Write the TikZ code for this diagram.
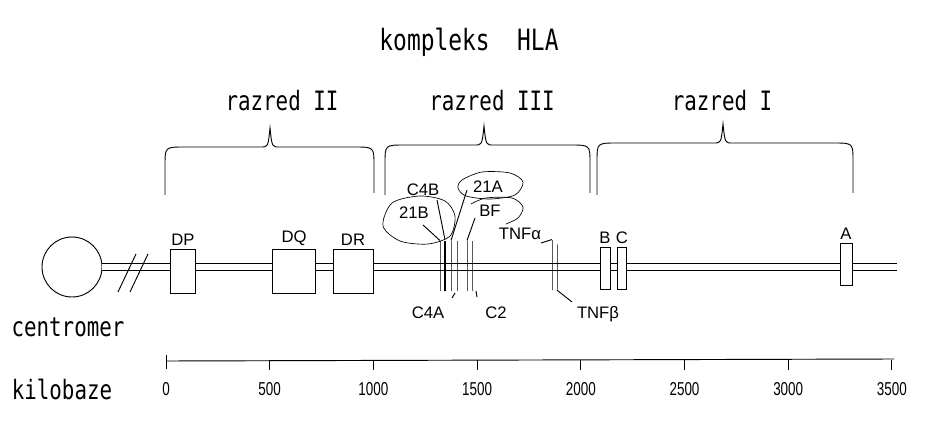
\documentclass[tikz,border=0pt]{standalone}
\usepackage{fontspec}
\setmainfont{Liberation Sans}
\newfontfamily\typefont[FakeStretch=0.78]{DejaVu Sans Mono}
\newfontfamily\numfont[FakeStretch=0.72]{Liberation Sans}
\usetikzlibrary{positioning}

\begin{document}
\begin{tikzpicture}[x=0.75pt,y=-0.75pt,line width=0.7pt,
  gene/.style={draw,fill=white,inner sep=0pt,minimum height=33pt},
  bar/.style={draw,inner sep=0pt,minimum width=0pt,minimum height=37.5pt},
  lab/.style={font=\fontsize{12.5}{12.5}\selectfont,inner sep=1pt},
  big/.style={font=\typefont\fontsize{20}{20}\selectfont},
  num/.style={font=\numfont\fontsize{14}{14}\selectfont}]
\useasboundingbox (0,0) rectangle (934,438);
% ---------- titles ----------
\node[big,font=\typefont\fontsize{22}{22}\selectfont] (hla) at (469,42) {kompleks\ \ HLA};
\node[big] (r2) at (282,101) {razred II};
\node[big] (r3) at (492,101) {razred III};
\node[big] (r1) at (722,101) {razred I};
% braces
\foreach \xa/\xt/\xb/\yt in {165/270/374/147, 385/484/590/145, 597/723/853/143}{
  \draw (\xa,195) -- (\xa,\yt+18) .. controls (\xa,\yt) .. (\xa+20,\yt) -- (\xt-9,\yt)
    .. controls (\xt-2,\yt) .. (\xt,\yt-19) .. controls (\xt+2,\yt) .. (\xt+9,\yt)
    -- (\xb-20,\yt) .. controls (\xb,\yt) .. (\xb,\yt+18) -- (\xb,193);
}
% ---------- chromosome ----------
\node[draw,circle,minimum size=45pt,inner sep=0pt] (cen) at (72,267) {};
\node[big] (cenlab) at (68,327) {centromer};
\coordinate (tel) at (897,267);
\draw[double,double distance=4.5pt,line width=0.6pt] (cen.east) -- (tel);
\draw (118,292) -- (136,254) (130,292) -- (148,254);
% class II boxes
\node[gene,minimum width=18.75pt] (dp) at (183,271) {};
\node[gene,minimum width=32pt] (dq) at (294,271) {};
\node[gene,minimum width=30pt] (dr) at (353,271) {};
\node[lab,above=1pt of dp] (dplab) {DP};
\node[lab,above=1pt of dq] (dqlab) {DQ};
\node[lab,above=1pt of dr] (drlab) {DR};
% class III bars
\node[bar] (b1) at (440,266) {};
\node[bar,line width=2pt] (b2) at (445,266) {};
\node[bar] (b3) at (451,266) {};
\node[bar] (b4) at (457,266) {};
\node[bar] (b5) at (467,266) {};
\node[bar] (b6) at (472,266) {};
\node[bar] (tnfa) at (552,265) {};
\node[bar,minimum height=34pt] (tnfb) at (557,267) {};
% class I boxes
\node[gene,minimum width=7.5pt,minimum height=31.5pt] (gb) at (605,268) {};
\node[gene,minimum width=7pt,minimum height=31.5pt] (gc) at (622,268) {};
\node[gene,minimum width=9pt,minimum height=31.5pt] (ga) at (846,264) {};
\node[lab,above=1pt of gb] (gblab) {B};
\node[lab,above=1pt of gc] (gclab) {C};
\node[lab,above=1pt of ga] (galab) {A};
% ---------- class III labels ----------
\node[lab] (c4b) at (423,190) {C4B};
\node[lab] (s21b) at (414,213) {21B};
\node[lab] (s21a) at (488,187) {21A};
\node[lab] (bf) at (490,211) {BF};
\node[lab] (tnfalab) at (520,234) {TNFα};
\node[lab] (c4a) at (428,313) {C4A};
\node[lab] (c2) at (496,313) {C2};
\node[lab] (tnfblab) at (598,314) {TNFβ};
% leaders
\coordinate (l21b) at (423,225);
\coordinate (lc4b) at (437,200);
\coordinate (l21a) at (467,190);
\coordinate (lbf) at (475,218);
\coordinate (ltnfa) at (541,243);
\coordinate (ltnfb) at (572,302);
\coordinate (lc4a) at (452,298);
\coordinate (lc2) at (477,297);
\draw (l21b) -- (b1.north) (lc4b) -- (b2.north) (l21a) -- (b3.north)
  (lbf) -- (b5.north) (ltnfa) -- (tnfa.north) (ltnfb) -- (tnfb.south)
  (lc4a) -- ++(3,-5) (lc2) -- ++(-1,-6);
% hand-drawn loops
\draw[line width=0.5pt] plot[smooth cycle] coordinates {(392,203) (420,196) (445,201) (455,216) (450,236) (428,244) (400,241) (383,226)};
\draw[line width=0.5pt] plot[smooth cycle] coordinates {(462,180) (482,172) (510,173) (523,182) (515,195) (490,199) (466,196) (458,188)};
\draw[line width=0.5pt] plot[smooth] coordinates {(471,204) (486,198) (512,198) (523,207) (518,218) (506,224)};
% ---------- scale ----------
\coordinate (ax0) at (166,361);
\coordinate (ax1) at (894,359);
\draw (ax0) -- (ax1);
\draw (166,355) -- (166,369);
\foreach \kb in {500,1000,...,3500}{
  \draw (166+\kb*0.2074,360) -- ++(0,10);
}
\foreach \kb in {0,500,1000,...,3500}{
  \node[num] (n\kb) at (166+\kb*0.2074,389) {\kb};
}
\node[big] (kb) at (62,389) {kilobaze};
\end{tikzpicture}
\end{document}
